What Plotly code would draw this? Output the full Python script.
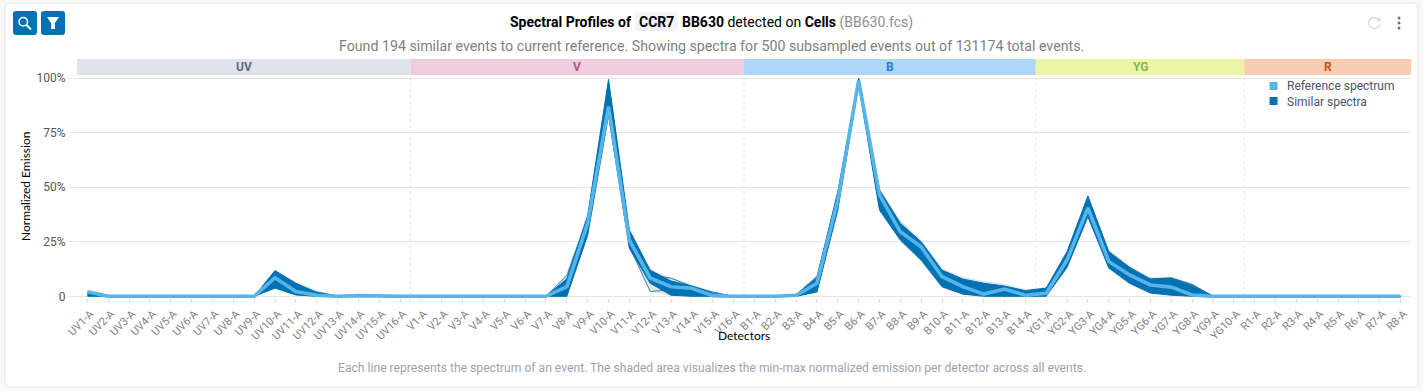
import plotly.graph_objects as go

W, H = 1423, 391
L, R, T, B = 77, 1411.5, 76, 298

uv = [f"UV{i}-A" for i in range(1, 17)]
v = [f"V{i}-A" for i in range(1, 17)]
b = [f"B{i}-A" for i in range(1, 15)]
yg = [f"YG{i}-A" for i in range(1, 11)]
r = [f"R{i}-A" for i in range(1, 9)]
detectors = uv + v + b + yg + r

groups = ["UV", "V", "B", "YG", "R"]
group_sizes = [16, 16, 14, 10, 8]
band_colors = ["#dfe3ec", "#efcddf", "#aed6f6", "#ebf5a4", "#f8ccb0"]
label_colors = ["#5a6b85", "#b5528f", "#2b7fc4", "#82b85a", "#c2561b"]
legend_names = ["Reference spectrum", "Similar spectra"]

reference = [2.1, 0, 0, 0, 0, 0, 0, 0, 0, 8.5, 2.2, .5, 0, .3, 0, 0,
             0, .1, 0, 0, 0, 0, 0, 4.4, 33.5, 87, 25.8, 8.4, 4.4, 3.7, .3, 0,
             0, 0, .5, 6, 44, 99, 46.5, 29.6, 22.7, 9, 4.4, 1, 3.3, .5,
             1.4, 16.7, 40.5, 16, 9.8, 5.2, 4.2, .6, 0, 0,
             0, 0, 0, 0, 0, 0, 0, 0]
dense_high = [2, 0, 0, 0, 0, 0, 0, 0, 0, 11.8, 6, 1.8, .2, .5, .1, 0,
              0, .4, 0, 0, 0, 0, 0, 8, 37, 99.5, 30.4, 12, 7, 4.7, 1.5, 0,
              0, 0, .8, 8.5, 48, 100, 48.8, 33.5, 25, 12, 7.9, 6, 4.7, 2.6,
              3.8, 20.5, 46, 20.5, 13.3, 7.9, 8.4, 5, .2, 0,
              0, 0, 0, 0, 0, 0, 0, 0]
dense_low = [0, 0, 0, 0, 0, 0, 0, 0, 0, 3.8, .6, 0, 0, 0, 0, 0,
             0, 0, 0, 0, 0, 0, 0, 0, 28, 83, 22, 6, .5, 0, 0, 0,
             0, 0, 0, 2, 39.6, 97, 39.6, 25.8, 16.6, 4.4, 1, 0, 0, 0,
             0, 13.3, 36.5, 13, 6, 1.5, .5, 0, 0, 0,
             0, 0, 0, 0, 0, 0, 0, 0]
envelope_high = [2.3, 0, 0, 0, 0, 0, 0, 0, 0, 12, 6.8, 2.8, .4, .8, .3, 0,
                 0, .7, 0, 0, 0, 0, 0, 10.8, 38.5, 100, 31, 12.5, 8.6, 5.5, 2.2, 0,
                 0, 0, 1, 10, 49, 100, 49.5, 35, 26, 13, 9, 7, 5.6, 3.2,
                 4.2, 21, 47, 21.5, 14, 8.8, 9, 6, .3, 0,
                 0, 0, 0, 0, 0, 0, 0, 0]
envelope_low = [0, 0, 0, 0, 0, 0, 0, 0, 0, 3.2, .4, 0, 0, 0, 0, 0,
                0, 0, 0, 0, 0, 0, 0, 0, 28, 83, 21.5, 2, .3, 0, 0, 0,
                0, 0, 0, 1.8, 39, 97, 39, 25, 15.8, 3.8, .6, 0, 0, 0,
                0, 13, 36, 12.5, 5.2, 1, .3, 0, 0, 0,
                0, 0, 0, 0, 0, 0, 0, 0]
event_a = [1, 0, 0, 0, 0, 0, 0, 0, 0, 4, 1, 0, 0, 0, 0, 0,
           0, 0, 0, 0, 0, 0, 0, 2, 30, 90, 23, 2.2, 3, 2, .5, 0,
           0, 0, .2, 2.2, 41, 98, 41, 27, 18, 4.8, 1.6, 2, 1, 1,
           1, 14, 38, 14, 7, 2, 1.5, 1, 0, 0,
           0, 0, 0, 0, 0, 0, 0, 0]
event_b = [1.5, 0, 0, 0, 0, 0, 0, 0, 0, 10, 5, 2, 0, .4, 0, 0,
           0, .3, 0, 0, 0, 0, 0, 9.5, 36, 97, 29, 10, 8.3, 4.6, 2, 0,
           0, 0, .8, 9, 47, 100, 48, 32, 24, 11, 7, 5, 4, 2,
           3, 19, 44, 19, 12, 8, 8.4, 5.5, 0, 0,
           0, 0, 0, 0, 0, 0, 0, 0]
y_ticks = [0, 25, 50, 75, 100]
y_labels = ["0", "25%", "50%", "75%", "100%"]


def px(x):
    return (x - L) / (R - L)


def py(y):
    return (B - y) / (B - T)


def rect_path(x0, y0, x1, y1, rad):
    c = [(x0 + rad, y0), (x1 - rad, y0), (x1, y0 + rad), (x1, y1 - rad),
         (x1 - rad, y1), (x0 + rad, y1), (x0, y1 - rad), (x0, y0 + rad)]
    q = [(px(a), py(d)) for a, d in c]
    return (f"M{q[0][0]},{q[0][1]} L{q[1][0]},{q[1][1]} "
            f"Q{px(x1)},{py(y0)} {q[2][0]},{q[2][1]} L{q[3][0]},{q[3][1]} "
            f"Q{px(x1)},{py(y1)} {q[4][0]},{q[4][1]} L{q[5][0]},{q[5][1]} "
            f"Q{px(x0)},{py(y1)} {q[6][0]},{q[6][1]} L{q[7][0]},{q[7][1]} "
            f"Q{px(x0)},{py(y0)} {q[0][0]},{q[0][1]} Z")


def poly(points, close=True):
    s = "M" + " L".join(f"{px(a)},{py(d)}" for a, d in points)
    return s + (" Z" if close else "")


def pshape(path, fill="rgba(0,0,0,0)", line="rgba(0,0,0,0)", width=0, layer="below"):
    return dict(type="path", xref="paper", yref="paper", path=path, fillcolor=fill,
                line=dict(color=line, width=width), layer=layer)


def note(x, y, text, size=14, color="#000", anchor="left", family="Roboto", angle=0):
    return dict(xref="paper", yref="paper", x=px(x), y=py(y), text=text, showarrow=False,
                xanchor=anchor, yanchor="middle", textangle=angle,
                font=dict(family=family, size=size, color=color))


BLUE = "#0071b2"
LIGHT = "#56b4e9"
GRAY = "#e4e4e4"

fig = go.Figure()
xs = list(range(len(detectors)))

fig.add_trace(go.Scatter(x=xs, y=envelope_high, mode="lines", line=dict(width=0, color=GRAY),
                         showlegend=False, hoverinfo="skip"))
fig.add_trace(go.Scatter(x=xs, y=envelope_low, mode="lines", line=dict(width=0, color=GRAY),
                         fill="tonexty", fillcolor=GRAY, showlegend=False, hoverinfo="skip"))
fig.add_trace(go.Scatter(x=xs, y=dense_high, mode="lines", line=dict(width=1, color=BLUE),
                         showlegend=False, hoverinfo="skip"))
fig.add_trace(go.Scatter(x=xs, y=dense_low, mode="lines", line=dict(width=1, color=BLUE),
                         fill="tonexty", fillcolor=BLUE, showlegend=False, hoverinfo="skip"))
fig.add_trace(go.Scatter(x=xs, y=event_a, mode="lines", line=dict(width=0.8, color=BLUE),
                         showlegend=False, hoverinfo="skip"))
fig.add_trace(go.Scatter(x=xs, y=event_b, mode="lines", line=dict(width=0.8, color=BLUE),
                         showlegend=False, hoverinfo="skip"))
fig.add_trace(go.Scatter(x=xs, y=reference, mode="lines", line=dict(width=3.6, color=LIGHT),
                         name=legend_names[0], showlegend=False))

shapes = [pshape(rect_path(5, 3, 1418.5, 387, 6), fill="#ffffff", line="#e6e6e6", width=1)]
annotations = []

start = 0
for name, size, fillc, textc in zip(groups, group_sizes, band_colors, label_colors):
    x0, x1 = start - 0.5, start + size - 0.5
    shapes.append(dict(type="rect", xref="x", yref="paper", x0=x0, x1=x1,
                       y0=py(75), y1=py(59), fillcolor=fillc, line=dict(width=0), layer="below"))
    annotations.append(dict(xref="x", yref="paper", x=(x0 + x1) / 2, y=py(67), text=f"<b>{name}</b>",
                            showarrow=False, yanchor="middle",
                            font=dict(family="Roboto", size=12, color=textc)))
    if start > 0:
        shapes.append(dict(type="line", xref="x", yref="paper", x0=x0, x1=x0, y0=py(302), y1=py(75),
                           line=dict(color="#e2e2e2", width=1, dash="3px,3px"), layer="below"))
    start += size

# header chip and buttons
shapes.append(pshape(rect_path(635, 12, 678, 31, 3), fill="#f1f5f9"))
shapes.append(pshape(rect_path(13, 11, 37, 35, 3), fill=BLUE))
shapes.append(pshape(rect_path(41, 11, 65, 35, 3), fill=BLUE))
# magnifier
shapes.append(dict(type="circle", xref="paper", yref="paper", x0=px(19), x1=px(27.5), y0=py(26), y1=py(17.5),
                   line=dict(color="#ffffff", width=1.5), fillcolor="rgba(0,0,0,0)"))
shapes.append(pshape(poly([(26.5, 25), (31, 29.5)], close=False), line="#ffffff", width=2))
# funnel
shapes.append(pshape(poly([(47, 17), (59, 17), (55, 23), (55, 29), (51, 29), (51, 23)]), fill="#ffffff"))
# refresh arc and kebab
shapes.append(pshape(
    f"M{px(1380)},{py(20)} Q{px(1377)},{py(17.5)} {px(1374.5)},{py(17.5)} "
    f"Q{px(1369.5)},{py(18)} {px(1369)},{py(23)} Q{px(1369.5)},{py(28)} {px(1374.5)},{py(28.5)} "
    f"Q{px(1379)},{py(28)} {px(1380.5)},{py(24.5)}",
    line="#d5d9e0", width=1.4))
shapes.append(pshape(poly([(1381, 17), (1381, 21.5), (1376.5, 21.5)]), fill="#d5d9e0"))
for cy in (18, 23, 28):
    shapes.append(dict(type="circle", xref="paper", yref="paper", x0=px(1398), x1=px(1401),
                       y0=py(cy + 1.5), y1=py(cy - 1.5), fillcolor="#6b7280", line=dict(width=0)))
# legend block
shapes.append(dict(type="rect", xref="paper", yref="paper", x0=px(1262), x1=px(1411.5), y0=py(112), y1=py(77),
                   fillcolor="rgba(255,255,255,0.75)", line=dict(width=0), layer="between"))
for cy, colr, label in zip((86, 101), (LIGHT, BLUE), legend_names):
    shapes.append(dict(type="rect", xref="paper", yref="paper", x0=px(1270), x1=px(1278),
                       y0=py(cy + 4), y1=py(cy - 4), fillcolor=colr, line=dict(width=0), layer="above"))
    annotations.append(note(1285, cy + 0.5, label, size=12, color="#4a5568"))

annotations += [
    note(508, 22, "<b>Spectral Profiles of</b>"),
    note(637, 22, "<b>CCR7</b>"),
    note(680, 22, "<b>BB630</b> detected on <b>Cells</b> <span style='color:#8f8f8f'>(BB630.fcs)</span>"),
    note(712, 46, "Found 194 similar events to current reference. Showing spectra for 500 subsampled "
                  "events out of 131174 total events.", size=14.2, color="#7f7f7f", anchor="center"),
    note(712, 368, "Each line represents the spectrum of an event. The shaded area visualizes the "
                   "min-max normalized emission per detector across all events.",
         size=12.15, color="#9ca3af", anchor="center"),
    note(744, 335, "Detectors", size=12, family="Lato", anchor="center"),
    note(25, 187, "Normalized Emission", size=12, family="Lato", anchor="center", angle=-90),
]

fig.update_layout(
    width=W, height=H, showlegend=False,
    margin=dict(l=L, r=W - R, t=T, b=H - B, pad=0, autoexpand=False),
    paper_bgcolor="#f8f8f8", plot_bgcolor="rgba(0,0,0,0)",
    font=dict(family="Roboto", color="#555"),
    shapes=shapes, annotations=annotations,
    xaxis=dict(range=[-0.5, 63.5], tickmode="array", tickvals=xs, ticktext=detectors,
               tickangle=-45, showgrid=False, zeroline=False, showline=False,
               ticks="outside", ticklen=4, tickcolor="#dddddd", tickwidth=1, ticklabelshift=3,
               tickfont=dict(family="Roboto", size=11, color="#808080")),
    yaxis=dict(range=[-0.78, 101.05], tickmode="array", tickvals=y_ticks, ticktext=y_labels,
               showgrid=True, gridcolor="#e4e4e4", gridwidth=1.2, zeroline=False, showline=False,
               ticks="outside", ticklen=8, tickcolor="#e4e4e4", tickwidth=1.2,
               tickfont=dict(family="Roboto", size=12, color="#555")),
)

fig.write_html("out.html", config=dict(displayModeBar=False),
               post_script="document.body.style.margin='0';document.documentElement.style.overflow='hidden';")
